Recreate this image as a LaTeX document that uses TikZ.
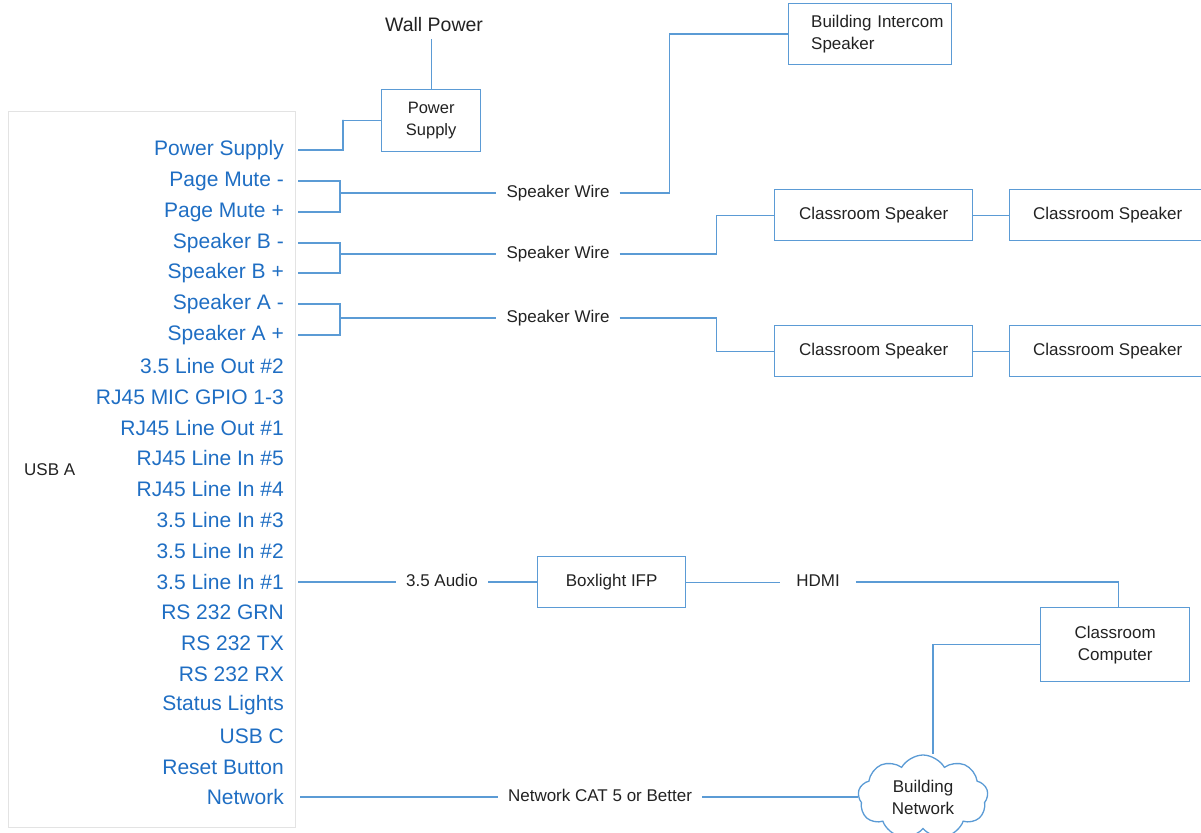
\documentclass[tikz,border=0pt]{standalone}
\usepackage{fontspec}
\setmainfont{Liberation Sans}
\usetikzlibrary{shapes.symbols,calc}
\definecolor{porttxt}{HTML}{1F6EC3}
\definecolor{wire}{HTML}{5B9BD5}
\definecolor{devframe}{HTML}{E3E3E3}
\definecolor{ink}{HTML}{222222}
\tikzset{
  port/.style={anchor=east,inner sep=0pt,text=porttxt,font=\fontsize{21}{24}\selectfont},
  lbl/.style={inner xsep=10pt,inner ysep=2pt,text=ink,font=\fontsize{17}{20}\selectfont,text height=12pt,text depth=3pt},
  devbox/.style={draw=wire,line width=1.3pt,text=ink,font=\fontsize{17}{22}\selectfont,align=center},
  conn/.style={draw=wire,line width=1.3pt},
}
\begin{document}
\begin{tikzpicture}[x=1pt,y=-1pt]
\useasboundingbox (0,0) rectangle (1201,832);
% device frame
\node[draw=devframe,line width=1.2pt,minimum width=287pt,minimum height=716pt,anchor=north west,inner sep=0pt] (dev) at (8,111) {};
\node[anchor=west,inner sep=0pt,text=ink,font=\fontsize{17}{20}\selectfont] (usba) at (24,470) {USB A};
% ports
\node[port] (ps)  at (284,150) {Power Supply};
\node[port] (pmm) at (284,181) {Page Mute -};
\node[port] (pmp) at (284,212) {Page Mute +};
\node[port] (sbm) at (284,243) {Speaker B -};
\node[port] (sbp) at (284,273) {Speaker B +};
\node[port] (sam) at (284,304) {Speaker A -};
\node[port] (sap) at (284,335) {Speaker A +};
\node[port] (lo2) at (284,366) {3.5 Line Out \#2};
\node[port] (mic) at (284,397) {RJ45 MIC GPIO 1-3};
\node[port] (lo1) at (284,428) {RJ45 Line Out \#1};
\node[port] (li5) at (284,458) {RJ45 Line In \#5};
\node[port] (li4) at (284,489) {RJ45 Line In \#4};
\node[port] (li3) at (284,520) {3.5 Line In \#3};
\node[port] (li2) at (284,551) {3.5 Line In \#2};
\node[port] (li1) at (284,582) {3.5 Line In \#1};
\node[port] (grn) at (284,612) {RS 232 GRN};
\node[port] (tx)  at (284,643) {RS 232 TX};
\node[port] (rx)  at (284,674) {RS 232 RX};
\node[port] (stl) at (284,705) {Status Lights};
\node[port] (usbc) at (284,736) {USB C};
\node[port] (rst) at (284,767) {Reset Button};
\node[port] (net) at (284,797) {Network};
% power
\node[devbox,minimum width=99pt,minimum height=62pt,anchor=north west,inner sep=0pt,font=\fontsize{16.5}{22}\selectfont] (psu) at (381,89) {Power\\Supply};
\node[inner sep=2pt,text=ink,font=\fontsize{19.5}{22}\selectfont] (wall) at (434,25) {Wall Power};
\coordinate (b0) at (343,120);
\draw[conn] ([xshift=14pt]ps.east) -| (b0) |- (psu.west);
\draw[conn] (psu.north) -- ([yshift=-5pt]psu.north |- wall.south);
% intercom
\node[devbox,minimum width=163pt,minimum height=61pt,anchor=north west,inner sep=0pt,align=left,text width=148pt] (ic) at (788,3) {\hspace*{15pt}Building Intercom\\\hspace*{15pt}Speaker};
% speaker boxes
\node[devbox,minimum width=198pt,minimum height=51pt,anchor=north west,inner sep=0pt] (cb1) at (774,189) {Classroom Speaker};
\node[devbox,minimum width=196pt,minimum height=51pt,anchor=north west,inner sep=0pt] (cb2) at (1009,189) {Classroom Speaker};
\node[devbox,minimum width=198pt,minimum height=51pt,anchor=north west,inner sep=0pt] (ca1) at (774,325) {Classroom Speaker};
\node[devbox,minimum width=196pt,minimum height=51pt,anchor=north west,inner sep=0pt] (ca2) at (1009,325) {Classroom Speaker};
% wire labels
\node[lbl] (sw1) at (558,193) {Speaker Wire};
\node[lbl] (sw2) at (558,254) {Speaker Wire};
\node[lbl] (sw3) at (558,318) {Speaker Wire};
\coordinate (b1) at (340,193);
\coordinate (b2) at (340,254);
\coordinate (b3) at (340,318);
% page mute
\draw[conn] ([xshift=14pt]pmm.east) -| (b1) |- ([xshift=14pt]pmp.east);
\draw[conn] (b1) -- (sw1.west);
\draw[conn] (sw1.east) -- ++(50,0) |- (ic.west);
% speaker B
\draw[conn] ([xshift=14pt]sbm.east) -| (b2) |- ([xshift=14pt]sbp.east);
\draw[conn] (b2) -- (sw2.west);
\draw[conn] (sw2.east) -- ++(97,0) |- (cb1.west);
\draw[conn] (cb1.east) -- (cb2.west);
% speaker A
\draw[conn] ([xshift=14pt]sam.east) -| (b3) |- ([xshift=14pt]sap.east);
\draw[conn] (b3) -- (sw3.west);
\draw[conn] (sw3.east) -- ++(97,0) |- (ca1.west);
\draw[conn] (ca1.east) -- (ca2.west);
% audio / video
\node[lbl] (aud) at (442,582) {3.5 Audio};
\node[devbox,minimum width=148pt,minimum height=51pt,anchor=north west,inner sep=0pt] (ifp) at (537,556) {Boxlight IFP};
\node[lbl,inner xsep=16pt] (hdmi) at (818,582) {HDMI};
\node[devbox,minimum width=149pt,minimum height=74pt,anchor=north west,inner sep=0pt] (pc) at (1040,607) {Classroom\\Computer};
\draw[conn] ([xshift=14pt]li1.east) -- (li1.east -| aud.west);
\draw[conn] (aud.east) -- (aud.east -| ifp.west);
\draw[conn] (ifp.east) -- (ifp.east -| hdmi.west);
\draw[conn] (hdmi.east) -| ([xshift=3pt]pc.north);
% network
\node[cloud,cloud puffs=9,cloud puff arc=120,aspect=1.6,draw=wire,line width=1.3pt,minimum width=130pt,minimum height=84pt,inner sep=0pt,align=center,text=ink,font=\fontsize{17}{22}\selectfont] (cloud) at (923,797) {Building\\Network};
\node[lbl] (cat) at (600,797) {Network CAT 5 or Better};
\draw[conn] ([xshift=16pt]net.east) -- (net.east -| cat.west);
\draw[conn] (cat.east) -- (cat.east -| cloud.west);
\draw[conn] (pc.west) -| ([xshift=10pt]cloud.north);
\end{tikzpicture}
\end{document}
